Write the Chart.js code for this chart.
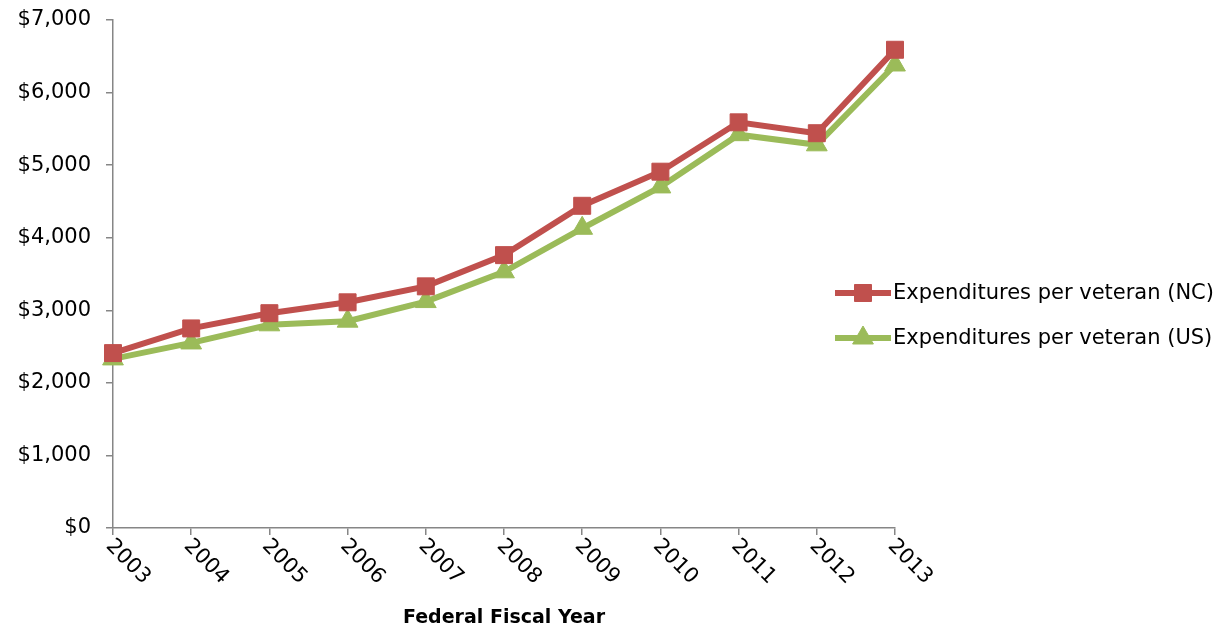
<!DOCTYPE html>
<html>
<head>
<meta charset="utf-8">
<script src="https://cdn.jsdelivr.net/npm/chart.js@4.4.1/dist/chart.umd.min.js"></script>
<style>
html,body{margin:0;padding:0;background:#fff;}
#wrap{width:1220px;height:630px;position:relative;}
</style>
</head>
<body>
<div id="wrap"><canvas id="c" width="1220" height="630"></canvas></div>
<script>
const years = ["2003","2004","2005","2006","2007","2008","2009","2010","2011","2012","2013"];
const ncValues = [2410, 2750, 2960, 3110, 3330, 3760, 4440, 4910, 5590, 5440, 6590];
const usValues = [2330, 2550, 2800, 2850, 3120, 3530, 4130, 4700, 5420, 5280, 6380];
const ncLabel = "Expenditures per veteran (NC)";
const usLabel = "Expenditures per veteran (US)";
const xTitle = "Federal Fiscal Year";

const FONT = "'DejaVu Sans', sans-serif";
const AXIS = "#868686";

function drawExtras(chart) {
  const ctx = chart.ctx;
  const xs = chart.scales.x;
  const ca = chart.chartArea;
  ctx.save();
  ctx.fillStyle = "#000";
  ctx.font = "21px " + FONT;
  ctx.textAlign = "left";
  ctx.textBaseline = "middle";
  years.forEach((y, i) => {
    const px = xs.getPixelForTick(i);
    ctx.save();
    ctx.translate(px - 4, ca.bottom + 15);
    ctx.rotate(Math.PI / 4);
    ctx.fillText(y, 0, 0);
    ctx.restore();
  });
  ctx.font = "bold 19px " + FONT;
  ctx.textAlign = "center";
  ctx.fillText(xTitle, (ca.left + ca.right) / 2, 618);
  const lx = 835, lw = 56;
  const ys = [293, 338];
  chart.data.datasets.forEach((ds, i) => {
    const yy = ys[i];
    ctx.strokeStyle = ds.borderColor;
    ctx.lineWidth = 6;
    ctx.beginPath();
    ctx.moveTo(lx, yy);
    ctx.lineTo(lx + lw, yy);
    ctx.stroke();
    ctx.fillStyle = ds.backgroundColor;
    ctx.strokeStyle = ds.borderColor;
    ctx.lineWidth = 1;
    Chart.helpers.drawPoint(ctx, { pointStyle: ds.pointStyle, radius: ds.pointRadius, borderWidth: 1 }, lx + lw / 2, yy);
    ctx.fillStyle = "#000";
    ctx.font = "21px " + FONT;
    ctx.textAlign = "left";
    ctx.fillText(ds.label, lx + lw + 2, yy + 1);
  });
  ctx.restore();
}

new Chart(document.getElementById('c'), {
  type: 'line',
  data: {
    labels: years,
    datasets: [
      {
        label: ncLabel, data: ncValues,
        borderColor: "#C0504D", backgroundColor: "#C0504D",
        borderWidth: 6, pointStyle: 'rect', pointRadius: 12,
        pointBorderWidth: 1, pointHoverRadius: 12, tension: 0
      },
      {
        label: usLabel, data: usValues,
        borderColor: "#9BBB59", backgroundColor: "#9BBB59",
        borderWidth: 6, pointStyle: 'triangle', pointRadius: 12,
        pointBorderWidth: 1, pointHoverRadius: 12, tension: 0
      }
    ]
  },
  options: {
    responsive: false,
    animation: false,
    events: [],
    layout: { padding: { top: 20, right: 325, left: 0, bottom: 0 } },
    plugins: {
      legend: { display: false },
      tooltip: { enabled: false }
    },
    scales: {
      x: {
        offset: false,
        grid: { display: true, drawOnChartArea: false, color: AXIS, tickLength: 7, lineWidth: 1.5 },
        border: { color: AXIS, width: 1.5 },
        ticks: { display: false },
        afterFit(s) { s.height = 102; s.paddingLeft = 0; s.paddingRight = 0; }
      },
      y: {
        min: 0, max: 7000,
        grid: { display: true, drawOnChartArea: false, color: AXIS, tickLength: 7, lineWidth: 1.5 },
        border: { color: AXIS, width: 1.5 },
        ticks: {
          stepSize: 1000, color: "#000", padding: 15,
          font: { family: FONT, size: 21 },
          callback: v => "$" + v.toLocaleString("en-US")
        },
        afterFit(s) { s.width = 113; s.paddingTop = 0; s.paddingBottom = 0; }
      }
    }
  },
  plugins: [{ id: 'extras', afterDraw: drawExtras }]
});
</script>
</body>
</html>
